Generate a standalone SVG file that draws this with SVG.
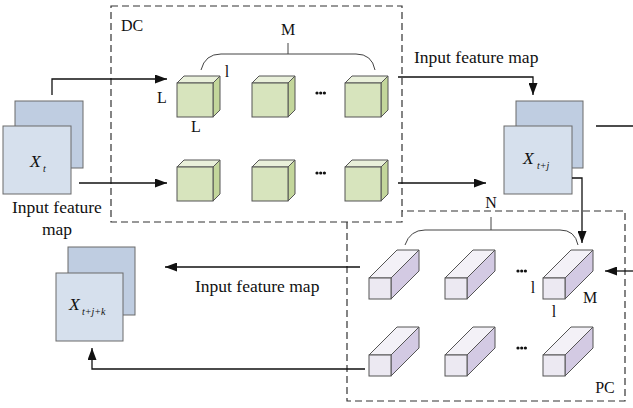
<svg xmlns="http://www.w3.org/2000/svg" xmlns:xlink="http://www.w3.org/1999/xlink" width="633" height="408" viewBox="0 0 633 408">
<style>
text{font-family:"Liberation Serif","Times New Roman",serif;fill:#111}
.lbl{font-size:17.5px}
.sm{font-size:16px}
.it{font-style:italic}
.sub{font-size:10px;font-style:italic}
.dash{fill:none;stroke:#333;stroke-width:1.2;stroke-dasharray:7,4}
.conn{fill:none;stroke:#111;stroke-width:1.3}
.brk{fill:none;stroke:#444;stroke-width:1}
.sqb{fill:#bfcde1;stroke:#6a6a6a;stroke-width:1}
.sqf{fill:#d6e0ed;stroke:#6a6a6a;stroke-width:1}
.cf{fill:#d7e4bd;stroke:#555;stroke-width:1}
.ct{fill:#e9f0da;stroke:#555;stroke-width:1}
.cs{fill:#c3d69b;stroke:#555;stroke-width:1}
.bf{fill:#ece9f2;stroke:#555;stroke-width:1}
.bt{fill:#f3f1f7;stroke:#555;stroke-width:1}
.bs{fill:#d3cae3;stroke:#555;stroke-width:1}
.dot{fill:#111}
</style>
<defs>
<marker id="ah" markerWidth="13" markerHeight="9" refX="12" refY="4.5" orient="auto" markerUnits="userSpaceOnUse">
<path d="M0,0 L12,4.5 L0,9 z" fill="#111"/>
</marker>
<g id="cube">
<polygon class="ct" points="0,0 7,-7 43,-7 36,0"/>
<polygon class="cs" points="36,0 43,-7 43,27 36,34"/>
<rect class="cf" x="0" y="0" width="36" height="34"/>
</g>
<g id="bar">
<polygon class="bt" points="0,0 28,-28 50,-28 22,0"/>
<polygon class="bs" points="22,0 50,-28 50,-7 22,21"/>
<rect class="bf" x="0" y="0" width="22" height="21"/>
</g>
<g id="dots">
<circle class="dot" cx="0" cy="0" r="1.6"/>
<circle class="dot" cx="3.7" cy="0" r="1.6"/>
<circle class="dot" cx="7.4" cy="0" r="1.6"/>
</g>
</defs>
<rect width="633" height="408" fill="#fff"/>

<g id="dc-box">
<rect class="dash" x="111" y="6" width="291" height="216"/>
<text class="sm" x="121" y="31">DC</text>
</g>
<g id="pc-box">
<path class="dash" d="M347,222 V401 H625 V211 H402"/>
<text class="sm" x="605" y="393" text-anchor="middle">PC</text>
</g>

<g id="xt">
<rect class="sqb" x="15" y="101" width="68" height="67"/>
<rect class="sqf" x="3" y="126" width="68" height="68"/>
<text class="lbl it" x="30" y="167">X</text><text class="sub" x="43" y="172">t</text>
<text class="lbl" x="12" y="213">Input feature</text>
<text class="lbl" x="57" y="235" text-anchor="middle">map</text>
</g>

<g id="xtj">
<rect class="sqb" x="516" y="101" width="67" height="67"/>
<rect class="sqf" x="504" y="126" width="68" height="68"/>
<text class="lbl it" x="523" y="164">X</text><text class="sub" x="537" y="169">t+j</text>
</g>

<g id="xtjk">
<rect class="sqb" x="68" y="247" width="67" height="68"/>
<rect class="sqf" x="56" y="273" width="67" height="68"/>
<text class="lbl it" x="69" y="310">X</text><text class="sub" x="82" y="315">t+j+k</text>
</g>

<g id="dc-filters">
<use xlink:href="#cube" x="177" y="83"/>
<use xlink:href="#cube" x="252" y="83"/>
<use xlink:href="#cube" x="345" y="83"/>
<use xlink:href="#cube" x="177" y="167"/>
<use xlink:href="#cube" x="252" y="167"/>
<use xlink:href="#cube" x="345" y="167"/>
<use xlink:href="#dots" x="317" y="93"/>
<use xlink:href="#dots" x="317" y="173"/>
<path class="brk" d="M201,70 Q205,54 221,54 L356,54 Q372,54 375,70 M288,54 V43"/>
<text class="sm" x="288" y="35" text-anchor="middle">M</text>
<text class="sm" x="162" y="103" text-anchor="middle">L</text>
<text class="sm" x="196" y="132" text-anchor="middle">L</text>
<text class="sm" x="227" y="77" text-anchor="middle">l</text>
</g>

<g id="pc-filters">
<use xlink:href="#bar" x="369" y="278"/>
<use xlink:href="#bar" x="445" y="278"/>
<use xlink:href="#bar" x="543" y="278"/>
<use xlink:href="#bar" x="369" y="355"/>
<use xlink:href="#bar" x="445" y="355"/>
<use xlink:href="#bar" x="543" y="355"/>
<use xlink:href="#dots" x="518" y="271"/>
<use xlink:href="#dots" x="518" y="348"/>
<path class="brk" d="M405,245 Q410,230 425,230 L560,230 Q575,230 578,245 M491,230 V217"/>
<text class="sm" x="491" y="208" text-anchor="middle">N</text>
<text class="sm" x="533" y="293" text-anchor="middle">l</text>
<text class="sm" x="590" y="303" text-anchor="middle">M</text>
<text class="sm" x="554" y="317" text-anchor="middle">l</text>
</g>

<g id="connectors">
<path class="conn" d="M52,95 V79 H167" marker-end="url(#ah)"/>
<path class="conn" d="M79,183 H167" marker-end="url(#ah)"/>
<path class="conn" d="M398,77 H533 V95" marker-end="url(#ah)"/>
<path class="conn" d="M398,183 H486" marker-end="url(#ah)"/>
<path class="conn" d="M572,178 H582 V243" marker-end="url(#ah)"/>
<path class="conn" d="M633,271 H605" marker-end="url(#ah)"/>
<path class="conn" d="M360,267 H165" marker-end="url(#ah)"/>
<path class="conn" d="M365,369 H92 V348" marker-end="url(#ah)"/>
<path class="conn" d="M596,126 H633"/>
<text class="lbl" x="414" y="63">Input feature map</text>
<text class="lbl" x="195" y="292">Input feature map</text>
</g>
</svg>
